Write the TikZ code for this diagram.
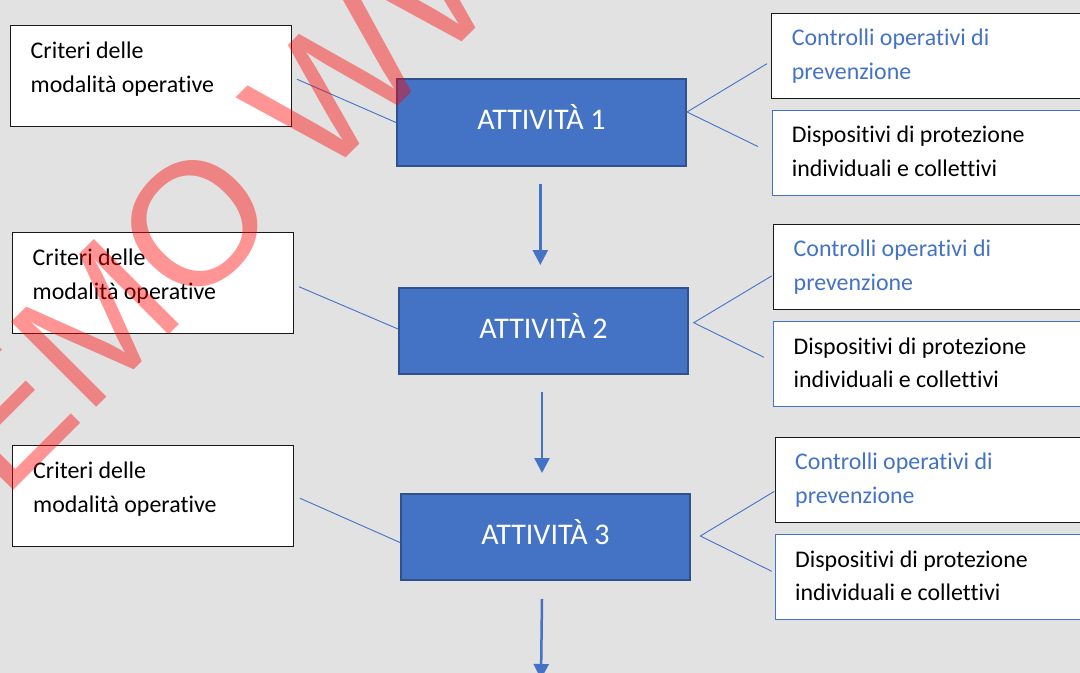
\documentclass[tikz,border=0pt]{standalone}
\usepackage{fontspec}
\setmainfont{Carlito}[Ligatures=NoCommon]
\newfontfamily\wmfont{Liberation Sans}
\usetikzlibrary{arrows.meta,calc}
\definecolor{bg}{RGB}{226,226,226}
\definecolor{accent}{RGB}{68,114,196}
\definecolor{accentdark}{RGB}{47,82,143}
\definecolor{boxline}{RGB}{25,25,25}
\begin{document}
\begin{tikzpicture}[x=1bp,y=-1bp,
  leftbox/.style={draw=boxline,line width=1.4bp,fill=white,rectangle,inner sep=0,minimum width=281bp,minimum height=101bp,anchor=north west},
  actbox/.style={draw=accentdark,line width=2bp,fill=accent,rectangle,inner sep=0,minimum width=289bp,minimum height=86bp,anchor=north west,text=white,text height=18bp,text depth=3.6bp,font=\fontsize{30bp}{32bp}\selectfont},
  ctrlbox/.style={draw=boxline,line width=1.4bp,fill=white,rectangle,inner sep=0,minimum width=340bp,minimum height=85bp,anchor=north west},
  dispbox/.style={draw=accent,line width=1.2bp,fill=white,rectangle,inner sep=0,minimum width=340bp,minimum height=85bp,anchor=north west},
  txt/.style={inner sep=0,anchor=base west,text=black,font=\fontsize{23.9bp}{30bp}\selectfont},
  ctrltxt/.style={txt,text=accent},
  conn/.style={draw=accent,line width=0.9bp},
  flow/.style={draw=accent,line width=2.5bp,-{Triangle[width=15bp,length=15bp]}},
  wm/.style={inner sep=0,anchor=base west,rotate=45,text=red,text opacity=0.42,font=\wmfont\fontsize{175bp}{175bp}\selectfont}
]
\clip (0,0) rectangle (1080,673);
\fill[bg] (0,0) rectangle (1080,673);

% left boxes
\node[leftbox] (L1) at (9.5,25) {};
\node[leftbox] (L2) at (11.5,232) {};
\node[leftbox] (L3) at (12,444.5) {};
\node[txt] (L1a) at ($(L1.north west)+(21,33.5)$) {Criteri delle};
\node[txt] (L1b) at ($(L1.north west)+(21,67.5)$) {modalità operative};
\node[txt] (L2a) at ($(L2.north west)+(21,33.5)$) {Criteri delle};
\node[txt] (L2b) at ($(L2.north west)+(21,67.5)$) {modalità operative};
\node[txt] (L3a) at ($(L3.north west)+(21,33.5)$) {Criteri delle};
\node[txt] (L3b) at ($(L3.north west)+(21,67.5)$) {modalità operative};

% activity boxes
\node[actbox] (A1) at (396,78.5) {ATTIVITÀ 1};
\node[actbox] (A2) at (398,287) {ATTIVITÀ 2};
\node[actbox] (A3) at (400,493) {ATTIVITÀ 3};

% right boxes
\node[ctrlbox] (C1) at (771,13) {};
\node[dispbox] (D1) at (771.5,110) {};
\node[ctrlbox] (C2) at (773,224) {};
\node[dispbox] (D2) at (773,320.7) {};
\node[ctrlbox] (C3) at (774.5,437) {};
\node[dispbox] (D3) at (775,534) {};

\node[ctrltxt] (C1a) at ($(C1.north west)+(20.7,32.5)$) {Controlli operativi di};
\node[ctrltxt] (C1b) at ($(C1.north west)+(20.7,66.5)$) {prevenzione};
\node[txt] (D1a) at ($(D1.north west)+(20.2,32.7)$) {Dispositivi di protezione};
\node[txt] (D1b) at ($(D1.north west)+(20.2,66.2)$) {individuali e collettivi};
\node[ctrltxt] (C2a) at ($(C2.north west)+(20.5,32.7)$) {Controlli operativi di};
\node[ctrltxt] (C2b) at ($(C2.north west)+(20.5,66.7)$) {prevenzione};
\node[txt] (D2a) at ($(D2.north west)+(20.5,33.5)$) {Dispositivi di protezione};
\node[txt] (D2b) at ($(D2.north west)+(20.5,66.5)$) {individuali e collettivi};
\node[ctrltxt] (C3a) at ($(C3.north west)+(20.5,32.5)$) {Controlli operativi di};
\node[ctrltxt] (C3b) at ($(C3.north west)+(20.5,66.5)$) {prevenzione};
\node[txt] (D3a) at ($(D3.north west)+(20,33)$) {Dispositivi di protezione};
\node[txt] (D3b) at ($(D3.north west)+(20,66.5)$) {individuali e collettivi};

% connectors left
\draw[conn] ($(L1.east)+(5,3)$) -- (A1.west);
\draw[conn] ($(L2.east)+(5,3.5)$) -- ($(A2.west)+(0,-2)$);
\draw[conn] ($(L3.east)+(5.5,2.5)$) -- ($(A3.west)+(0,5.5)$);

% connectors right
\draw[conn] ($(C1.west)+(-4,7.5)$) -- ($(A1.east)+(0,-10.5)$) -- ($(D1.west)+(-13.5,-6.5)$);
\draw[conn] ($(C2.west)+(-1.3,8.75)$) -- ($(A2.east)+(4.7,-8.3)$) -- ($(D2.west)+(-9,-6.5)$);
\draw[conn] ($(C3.west)+(-0.2,11.2)$) -- ($(A3.east)+(9.3,-1)$) -- ($(D3.west)+(-3.3,-5.8)$);

% flow arrows
\coordinate (end) at (541,679);
\draw[flow] ($(A1.south)+(-1.2,17.5)$) -- ($(A2.north)+(-3.2,-22)$);
\draw[flow] ($(A2.south)+(-1.5,17)$) -- ($(A3.north)+(-3.5,-20)$);
\draw[flow] ($(A3.south)+(-3.5,18)$) -- (end);

% watermark
\node[wm] (wmark) at (-85.6,589.6) {DEMO WWW};
\end{tikzpicture}
\end{document}
